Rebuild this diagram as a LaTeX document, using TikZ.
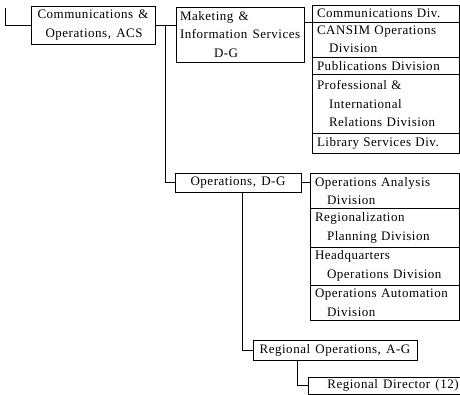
\documentclass[tikz,border=0pt]{standalone}
\usepackage{fontspec}
\setmainfont{Liberation Serif}[LetterSpace=4,WordSpace=1.4]
\usetikzlibrary{positioning}
\begin{document}
\begin{tikzpicture}[x=1pt,y=-1pt,
  box/.style={draw,thin,outer sep=0pt,inner xsep=5pt,inner ysep=4pt,align=left,
    font=\fontsize{13}{18.5}\selectfont},
  unit/.style={box,anchor=north west},
  row/.style={box,text width=#1,anchor=north},
  line/.style={thin}]
\clip (0,0) rectangle (460,394);
% directorates
\node[unit,minimum width=124,minimum height=37] (coa) at (31,6)
  {Communications \&\\\hspace*{8pt}Operations, ACS};
\node[unit,minimum width=126,minimum height=55,inner xsep=4pt] (mis) at (176,7)
  {Maketing \&\\Information Services\\\hspace*{34pt}D-G};
\node[unit,minimum width=126,minimum height=19] (ops) at (175,173)
  {Operations, D-G};
\node[unit,minimum width=164,minimum height=18] (rops) at (253,340)
  {Regional Operations, A-G};
\node[unit,minimum width=170,inner ysep=2.5pt] (rdir) at (308,377)
  {Regional Director (12)};
% divisions under marketing
\node[row=137pt,anchor=north west] (cd) at (312,5) {Communications Div.};
\node[row=137pt,below=0pt of cd] (cansim) {CANSIM Operations\\\hspace*{12pt}Division};
\node[row=137pt,below=0pt of cansim] (pub) {Publications Division};
\node[row=137pt,below=0pt of pub,minimum height=59] (pird)
  {Professional \&\\\hspace*{12pt}International\\\hspace*{12pt}Relations Division};
\node[row=137pt,below=0pt of pird] (lib) {Library Services Div.};
% divisions under operations
\node[row=139pt,anchor=north west] (oad) at (310,173)
  {Operations Analysis\\\hspace*{12pt}Division};
\node[row=139pt,below=0pt of oad] (rpd) {Regionalization\\\hspace*{12pt}Planning Division};
\node[row=139pt,below=0pt of rpd] (hqd) {Headquarters\\\hspace*{12pt}Operations Division};
\node[row=139pt,below=0pt of hqd] (oau) {Operations Automation\\\hspace*{12pt}Division};
% connectors
\coordinate (up) at (5,8);
\coordinate (j1) at (165,0);
\coordinate (j2) at (242,0);
\coordinate (j3) at (297,0);
\draw[line] (up) |- (coa.west);
\draw[line] (coa.east) -- (coa.east -| mis.west);
\draw[line] (coa.east -| j1) |- (ops.west);
\draw[line] (mis.east |- cd.south) -- (cd.south west);
\draw[line] (ops.east) -- (ops.east -| oad.west);
\draw[line] (ops.south -| j2) |- (rops.west);
\draw[line] (rops.south -| j3) |- (rdir.west);
\end{tikzpicture}
\end{document}
